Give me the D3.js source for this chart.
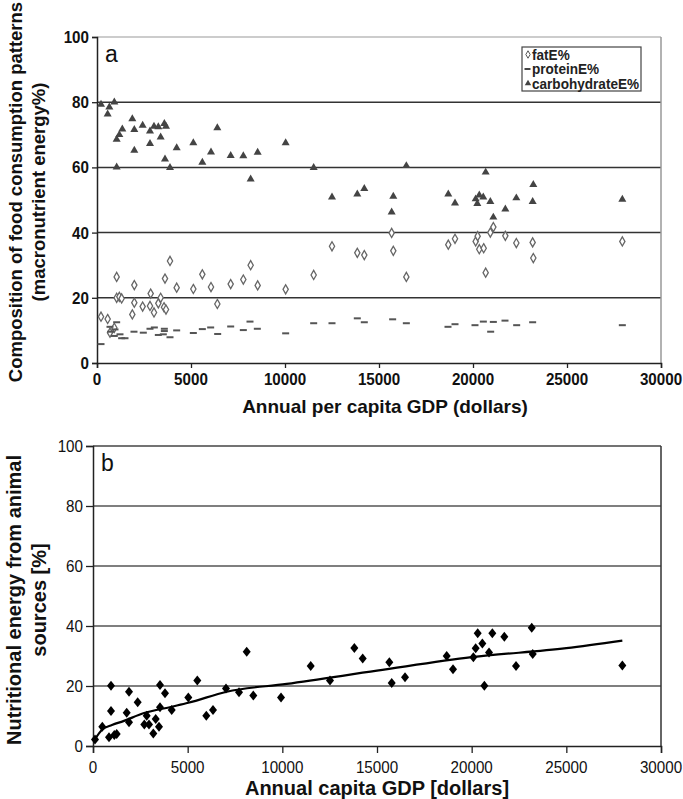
<!DOCTYPE html>
<html><head><meta charset="utf-8">
<script src="https://cdn.jsdelivr.net/npm/d3@7/dist/d3.min.js"></script>
<style>body{margin:0;background:#fff}svg{display:block}text{font-family:"Liberation Sans",Arial,sans-serif}</style>
</head><body>
<svg id="c" width="683" height="799"></svg>
<script>
// ---------- DATA ----------
const xTicks = [0,5000,10000,15000,20000,25000,30000];
const yTicks = [0,20,40,60,80,100];
const legendLabels = ["fatE%","proteinE%","carbohydrateE%"];
// panel a: [GDP, % energy]
const carbohydrate = [[213,79.3],[567,76.3],[656,78.5],[922,80.0],[1046,68.6],[1046,60.1],[1188,70.0],[1347,71.7],[1879,74.9],[1985,71.6],[1985,65.2],[2428,72.9],[2819,71.1],[2819,67.3],[3032,72.6],[3262,72.4],[3386,69.3],[3582,73.4],[3670,72.6],[3617,62.5],[3883,59.9],[4238,66.0],[5124,67.5],[5603,61.5],[6064,64.7],[6401,72.1],[7111,63.6],[7783,63.5],[8173,56.4],[8546,64.6],[10035,67.5],[11525,59.9],[12500,50.9],[13846,51.8],[14218,53.5],[15761,51.1],[15673,46.3],[16454,60.5],[18686,51.8],[19043,49.0],[20142,50.3],[20334,51.5],[20546,50.9],[20230,48.9],[20674,58.5],[20922,49.5],[21082,44.7],[21720,47.2],[22305,50.6],[23208,54.7],[23173,49.5],[27943,50.2]];
const fat = [[213,14.2],[567,13.5],[691,9.3],[920,10.8],[1046,26.4],[1046,20.0],[1188,20.3],[1311,19.8],[1879,14.9],[1985,23.9],[1985,18.5],[2428,17.3],[2819,17.5],[2855,21.3],[3032,15.5],[3262,18.3],[3386,20.0],[3564,17.1],[3670,16.4],[3617,25.9],[3883,31.3],[4238,23.1],[5124,22.7],[5603,27.2],[6064,23.3],[6401,18.1],[7111,24.2],[7783,25.6],[8173,30.0],[8546,23.8],[10035,22.6],[11525,27.0],[12500,35.8],[13846,33.8],[14218,33.1],[15673,39.9],[15761,34.4],[16454,26.4],[18686,36.3],[19043,38.1],[20142,37.3],[20248,38.9],[20334,34.9],[20568,35.2],[20674,27.7],[20922,40.0],[21082,41.7],[21720,39.0],[22305,36.8],[23173,37.0],[23208,32.2],[27943,37.3]];
const protein = [[213,5.8],[691,11.1],[727,9.6],[920,8.3],[957,10.3],[1046,12.5],[1223,8.8],[1311,7.6],[1489,7.6],[1967,9.6],[2463,9.3],[2819,10.5],[3050,10.9],[3262,8.6],[3528,8.8],[3582,10.5],[3582,9.8],[3883,7.9],[4238,10.0],[5124,9.2],[5603,10.4],[6046,10.9],[6419,8.9],[7111,11.2],[7783,10.1],[8138,12.7],[8528,10.5],[10035,9.1],[11525,12.2],[12500,12.2],[13846,13.7],[14218,12.5],[15726,13.4],[16454,12.2],[18670,11.1],[19043,11.9],[20106,11.6],[20550,12.7],[20940,9.6],[21082,12.6],[21702,13.0],[22323,11.6],[23173,12.5],[27943,11.6]];
// panel b: [GDP, % energy from animal sources]
const animal = [[106,2.2],[491,6.4],[845,2.9],[951,20.1],[951,11.7],[1125,3.7],[1252,4.0],[1780,11.1],[1902,18.1],[1902,7.9],[2360,14.6],[2710,7.2],[2836,10.1],[2958,7.2],[3185,4.2],[3312,9.0],[3486,6.4],[3539,20.3],[3539,12.9],[3803,17.6],[4157,12.0],[5034,16.2],[5509,21.8],[5984,10.1],[6338,12.0],[7025,19.2],[7712,17.9],[8118,31.4],[8467,16.8],[9930,16.2],[11499,26.7],[12518,21.8],[13803,32.7],[14245,29.2],[15651,27.9],[15777,21.0],[16480,22.9],[18681,30.0],[19015,25.6],[20089,29.6],[20212,32.6],[20318,37.6],[20564,34.2],[20670,20.1],[20917,31.2],[21091,37.6],[21725,36.4],[22343,26.7],[23172,39.4],[23225,30.7],[27958,26.8]];
// trend line
const trend = [[106,2.3],[491,5.5],[1000,7.0],[1602,8.3],[2657,10.9],[4157,13.1],[5034,14.4],[7062,18.1],[10230,20.7],[15000,25.1],[20000,29.6],[25000,32.6],[27958,35.1]];

// ---------- DRAW ----------
const svg = d3.select("#c");

function htext(g, x, y, s, o) {
  return g.append("g").attr("transform", `translate(${x},${y}) scale(${o.sx||1},1)`)
    .append("text").text(s)
    .attr("text-anchor", o.anchor || "middle")
    .attr("font-size", o.size || 14)
    .attr("font-weight", o.bold ? "bold" : "normal")
    .attr("fill", o.fill || "#111");
}
function vtext(g, x, y, s, o) {
  g.append("g").attr("transform", `translate(${x},${y}) rotate(-90)`)
    .append("text").text(s).attr("text-anchor","middle")
    .attr("font-size", o.size || 18).attr("font-weight","bold").attr("fill","#111");
}

function panel(cfg) {
  const g = svg.append("g");
  const x = d3.scaleLinear().domain([0,30000]).range([cfg.left, cfg.right]);
  const y = d3.scaleLinear().domain([0,100]).range([cfg.bottom, cfg.top]);
  g.selectAll("line.grid").data([20,40,60,80]).join("line")
    .attr("x1", cfg.left).attr("x2", cfg.right)
    .attr("y1", d => y(d)).attr("y2", d => y(d))
    .attr("stroke", cfg.gridColor).attr("stroke-width", 1.5);
  g.append("line").attr("x1", cfg.left).attr("x2", cfg.right).attr("y1", y(100)).attr("y2", y(100))
    .attr("stroke", cfg.frameTop).attr("stroke-width", 1.5);
  g.append("line").attr("x1", cfg.right).attr("x2", cfg.right).attr("y1", y(100)).attr("y2", y(0))
    .attr("stroke", cfg.frameRight).attr("stroke-width", 1.5);
  const ax = g.append("g").attr("transform", `translate(0,${y(0)})`)
    .call(d3.axisBottom(x).tickValues(xTicks).tickSize(cfg.tick).tickFormat(""));
  const ay = g.append("g").attr("transform", `translate(${cfg.left},0)`)
    .call(d3.axisLeft(y).tickValues(yTicks).tickSize(cfg.tick).tickFormat(""));
  [ax, ay].forEach(a => { a.select(".domain").attr("stroke","#222").attr("stroke-width",1.5);
    a.selectAll(".tick line").attr("stroke","#222").attr("stroke-width",1.3); });
  xTicks.forEach(v => htext(g, x(v), y(0) + cfg.xLabOff, String(v), {size: cfg.tickSize, bold: cfg.tickBold, sx: 0.95}));
  yTicks.forEach(v => htext(g, cfg.left - cfg.yLabGap, y(v) + 6, String(v), {size: cfg.tickSize, bold: cfg.tickBold, anchor: "end", sx: 0.95}));
  htext(g, cfg.left + 8, y(100) + 25, cfg.letter, {size: 23, anchor: "start"});
  return {g, x, y};
}

// ---- panel a ----
const A = panel({left:97, right:661, top:37, bottom:363, gridColor:"#333", frameTop:"#bbb", frameRight:"#999",
  tick:5, xLabOff:22, yLabGap:8, tickSize:16, tickBold:true, letter:"a"});
const diamond = d3.symbol().type(d3.symbolDiamond);
A.g.selectAll("path.fat").data(fat).join("path")
  .attr("transform", d => `translate(${A.x(d[0])},${A.y(d[1])})`)
  .attr("d", diamond.size(24)()).attr("fill","#fff").attr("stroke","#666").attr("stroke-width",1.3);
A.g.selectAll("rect.prot").data(protein).join("rect")
  .attr("x", d => A.x(d[0]) - 3.5).attr("y", d => A.y(d[1]) - 1)
  .attr("width", 7).attr("height", 2).attr("fill","#555");
A.g.selectAll("path.carb").data(carbohydrate).join("path")
  .attr("transform", d => `translate(${A.x(d[0])},${A.y(d[1])})`)
  .attr("d", d3.symbol().type(d3.symbolTriangle).size(28)()).attr("fill","#444");
// legend
const lg = A.g.append("g");
lg.append("rect").attr("x",522).attr("y",47).attr("width",119).attr("height",44)
  .attr("fill","#fff").attr("stroke","#444").attr("stroke-width",1.2);
legendLabels.forEach((s,i) => {
  const cy = 54.5 + i*14.5;
  if (i===0) lg.append("path").attr("transform",`translate(528,${cy})`).attr("d", diamond.size(16)())
    .attr("fill","#fff").attr("stroke","#555").attr("stroke-width",1);
  if (i===1) lg.append("rect").attr("x",524.5).attr("y",cy-1).attr("width",6).attr("height",2).attr("fill","#444");
  if (i===2) lg.append("path").attr("transform",`translate(528,${cy})`).attr("d", d3.symbol().type(d3.symbolTriangle).size(18)()).attr("fill","#444");
  htext(lg, 532, cy + 5, s, {size: 14, bold: true, anchor: "start", sx: 0.97, fill:"#222"});
});
htext(svg, 385, 413, "Annual per capita GDP (dollars)", {size: 19, bold: true});
vtext(svg, 22, 192, "Composition of food consumption patterns", {size: 18.5});
vtext(svg, 45, 192, "(macronutrient energy%)", {size: 18.5});

// ---- panel b ----
const B = panel({left:93, right:661, top:446, bottom:746, gridColor:"#555", frameTop:"#444", frameRight:"#333",
  tick:7, xLabOff:27, yLabGap:10, tickSize:16, tickBold:false, letter:"b"});
const bigDiamond = "M0,-5L4,0L0,5L-4,0Z";
B.g.selectAll("path.an").data(animal).join("path")
  .attr("transform", d => `translate(${B.x(d[0])},${B.y(d[1])})`)
  .attr("d", bigDiamond).attr("fill","#000");
B.g.append("path").datum(trend)
  .attr("d", d3.line().x(d => B.x(d[0])).y(d => B.y(d[1])).curve(d3.curveMonotoneX))
  .attr("fill","none").attr("stroke","#000").attr("stroke-width",2.2);
htext(svg, 377, 795, "Annual capita GDP [dollars]", {size: 20, bold: true});
vtext(svg, 21, 600, "Nutritional energy from animal", {size: 20});
vtext(svg, 46, 600, "sources [%]", {size: 20});
</script>
</body></html>
